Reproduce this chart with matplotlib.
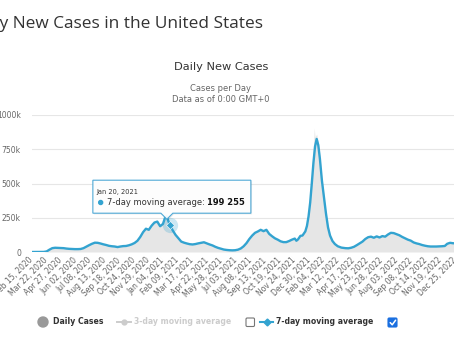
import matplotlib
matplotlib.use("Agg")
import matplotlib.pyplot as plt
import matplotlib.dates as mdates
from matplotlib.patches import Circle, Polygon, FancyBboxPatch
from matplotlib.lines import Line2D
import pandas as pd

# ---- data -------------------------------------------------------------
dates = [
    "2020-02-15", "2020-03-01", "2020-03-15", "2020-03-22", "2020-03-29", "2020-04-05",
    "2020-04-12", "2020-04-19", "2020-04-26", "2020-05-03", "2020-05-10", "2020-05-17",
    "2020-05-24", "2020-05-31", "2020-06-07", "2020-06-14", "2020-06-21", "2020-06-28",
    "2020-07-05", "2020-07-12", "2020-07-19", "2020-07-26", "2020-08-02", "2020-08-09",
    "2020-08-16", "2020-08-23", "2020-08-30", "2020-09-06", "2020-09-13", "2020-09-20",
    "2020-09-27", "2020-10-04", "2020-10-11", "2020-10-18", "2020-10-25", "2020-11-01",
    "2020-11-08", "2020-11-15", "2020-11-22", "2020-11-29", "2020-12-06", "2020-12-13",
    "2020-12-20", "2020-12-27", "2021-01-03", "2021-01-08", "2021-01-12", "2021-01-16",
    "2021-01-20", "2021-01-27", "2021-02-03", "2021-02-10", "2021-02-17", "2021-02-24",
    "2021-03-03", "2021-03-10", "2021-03-17", "2021-03-24", "2021-03-31", "2021-04-07",
    "2021-04-14", "2021-04-21", "2021-04-28", "2021-05-05", "2021-05-12", "2021-05-19",
    "2021-05-26", "2021-06-02", "2021-06-09", "2021-06-16", "2021-06-23", "2021-06-30",
    "2021-07-07", "2021-07-14", "2021-07-21", "2021-07-28", "2021-08-04", "2021-08-11",
    "2021-08-18", "2021-08-25", "2021-09-01", "2021-09-08", "2021-09-15", "2021-09-22",
    "2021-09-29", "2021-10-06", "2021-10-13", "2021-10-20", "2021-10-27", "2021-11-03",
    "2021-11-10", "2021-11-17", "2021-11-24", "2021-11-28", "2021-12-02", "2021-12-08",
    "2021-12-13", "2021-12-20", "2021-12-24", "2021-12-28", "2022-01-01", "2022-01-05",
    "2022-01-09", "2022-01-11", "2022-01-13", "2022-01-17", "2022-01-21", "2022-01-25",
    "2022-01-30", "2022-02-04", "2022-02-09", "2022-02-14", "2022-02-19", "2022-02-25",
    "2022-03-03", "2022-03-10", "2022-03-19", "2022-03-29", "2022-04-05", "2022-04-12",
    "2022-04-19", "2022-04-26", "2022-05-03", "2022-05-10", "2022-05-17", "2022-05-24",
    "2022-05-31", "2022-06-07", "2022-06-14", "2022-06-21", "2022-06-28", "2022-07-05",
    "2022-07-12", "2022-07-19", "2022-07-26", "2022-08-02", "2022-08-09", "2022-08-16",
    "2022-08-23", "2022-08-30", "2022-09-06", "2022-09-13", "2022-09-20", "2022-09-27",
    "2022-10-04", "2022-10-11", "2022-10-18", "2022-10-25", "2022-11-01", "2022-11-08",
    "2022-11-15", "2022-11-22", "2022-11-29", "2022-12-05", "2022-12-12", "2022-12-19",
    "2022-12-26", "2023-01-02", "2023-01-06",
]

moving_avg_7day = [
    0, 0, 600, 4000, 17000, 28000,
    31000, 30000, 29000, 28000, 25000, 23000,
    22000, 21000, 21000, 22000, 28000, 39000,
    50000, 60000, 68000, 67000, 62000, 56000,
    51000, 45000, 42000, 40000, 36000, 40000,
    43000, 44000, 49000, 56000, 66000, 82000,
    110000, 145000, 170000, 162000, 192000, 215000,
    222000, 188000, 205000, 250000, 262000, 228000,
    199255, 158000, 125000, 100000, 76000, 68000,
    62000, 57000, 55000, 58000, 63000, 67000,
    71000, 63000, 55000, 48000, 38000, 30000,
    24000, 18000, 15000, 13000, 12000, 13000,
    17000, 26000, 42000, 65000, 95000, 120000,
    140000, 150000, 162000, 152000, 162000, 132000,
    115000, 100000, 90000, 78000, 72000, 72000,
    80000, 90000, 98000, 82000, 92000, 118000,
    120000, 150000, 190000, 260000, 360000, 500000,
    650000, 710000, 770000, 825000, 780000, 680000,
    520000, 400000, 280000, 180000, 120000, 80000,
    58000, 42000, 32000, 28000, 27000, 31000,
    38000, 50000, 63000, 76000, 95000, 108000,
    112000, 104000, 114000, 106000, 116000, 112000,
    128000, 140000, 138000, 130000, 122000, 110000,
    100000, 90000, 83000, 70000, 63000, 58000,
    51000, 46000, 42000, 40000, 40000, 40000,
    41000, 42000, 44000, 60000, 67000, 64000,
    63000, 62000, 65000,
]

daily_cases = [
    0, 0, 700, 5000, 19000, 29000,
    32000, 31000, 30000, 28000, 26000, 24000,
    22000, 22000, 21000, 23000, 30000, 42000,
    52000, 63000, 70000, 68000, 63000, 57000,
    52000, 46000, 43000, 41000, 37000, 41000,
    44000, 45000, 51000, 58000, 70000, 86000,
    115000, 150000, 176000, 165000, 200000, 222000,
    230000, 192000, 212000, 262000, 272000, 232000,
    202000, 160000, 127000, 102000, 78000, 69000,
    63000, 58000, 56000, 59000, 64000, 68000,
    73000, 64000, 56000, 49000, 39000, 31000,
    25000, 19000, 16000, 14000, 13000, 14000,
    19000, 28000, 45000, 68000, 100000, 125000,
    145000, 155000, 168000, 158000, 168000, 136000,
    118000, 103000, 92000, 80000, 74000, 74000,
    82000, 93000, 102000, 84000, 95000, 122000,
    124000, 158000, 200000, 280000, 390000, 560000,
    760000, 905000, 840000, 860000, 800000, 700000,
    530000, 410000, 285000, 185000, 123000, 82000,
    59000, 43000, 33000, 29000, 28000, 32000,
    40000, 52000, 65000, 78000, 98000, 111000,
    114000, 107000, 117000, 109000, 119000, 115000,
    132000, 143000, 140000, 132000, 124000, 112000,
    102000, 92000, 85000, 72000, 65000, 59000,
    52000, 47000, 43000, 41000, 41000, 41000,
    42000, 43000, 45000, 63000, 70000, 66000,
    65000, 64000, 67000,
]

x_tick_labels = [
    "Feb 15, 2020", "Mar 22, 2020", "Apr 27, 2020", "Jun 02, 2020", "Jul 08, 2020",
    "Aug 13, 2020", "Sep 18, 2020", "Oct 24, 2020", "Nov 29, 2020", "Jan 04, 2021",
    "Feb 09, 2021", "Mar 17, 2021", "Apr 22, 2021", "May 28, 2021", "Jul 03, 2021",
    "Aug 08, 2021", "Sep 13, 2021", "Oct 19, 2021", "Nov 24, 2021", "Dec 30, 2021",
    "Feb 04, 2022", "Mar 12, 2022", "Apr 17, 2022", "May 23, 2022", "Jun 28, 2022",
    "Aug 03, 2022", "Sep 08, 2022", "Oct 14, 2022", "Nov 19, 2022", "Dec 25, 2022",
]
y_ticks = [0, 250000, 500000, 750000, 1000000]
y_tick_labels = ["0", "250k", "500k", "750k", "1000k"]

x_start, x_end = "2020-02-15", "2023-01-07"
highlight_date = "2021-01-20"

# ---- style ------------------------------------------------------------
BLUE = "#33a3d0"
AREA = "#e6e6e6"
GRID = "#e6e6e6"
TEXT = "#333333"
MUTED = "#666666"
FONT = "DejaVu Sans"

W, H = 454, 341
fig = plt.figure(figsize=(W / 100, H / 100), dpi=100)
fig.patch.set_facecolor("white")

x0, x1 = pd.Timestamp(x_start), pd.Timestamp(x_end)
px_per_day = 0.4055
ax_left, ax_top, ax_bottom = 32, 115, 252
ax_right = ax_left + (x1 - x0).days * px_per_day
ax = fig.add_axes([ax_left / W, 1 - ax_bottom / H,
                   (ax_right - ax_left) / W, (ax_bottom - ax_top) / H])

d = pd.to_datetime(dates)
ax.fill_between(d, daily_cases, 0, color=AREA, lw=0, zorder=2)
ax.plot(d, moving_avg_7day, color=BLUE, lw=1.7, zorder=3,
        solid_joinstyle="round", solid_capstyle="round")

ax.set_xlim(x0, x1)
ax.set_ylim(0, 1000000)
ax.set_yticks(y_ticks)
ax.set_yticklabels(y_tick_labels, fontsize=5.5, color=MUTED, family=FONT)
tick_pos = pd.to_datetime(x_tick_labels, format="%b %d, %Y")
ax.set_xticks(tick_pos)
ax.set_xticklabels(x_tick_labels, rotation=45, ha="right", va="center",
                   rotation_mode="anchor", fontsize=5.5, color=MUTED, family=FONT)
ax.tick_params(axis="both", length=0)
ax.tick_params(axis="y", pad=8)
ax.tick_params(axis="x", pad=5)
ax.grid(axis="y", color=GRID, lw=0.8, zorder=1)
ax.set_axisbelow(True)
for s in ax.spines.values():
    s.set_visible(False)
ax.patch.set_visible(False)

# highlighted point
idx = dates.index(highlight_date)
hx, hy = d[idx], moving_avg_7day[idx]
ax.plot([hx], [hy], marker="o", ms=11, color=BLUE, alpha=0.25, mec="none", zorder=4)
ax.plot([hx], [hy], marker="D", ms=4.5, color=BLUE, mec="white", mew=0.4, zorder=5)

# ---- overlay in pixel coordinates ------------------------------------
ov = fig.add_axes([0, 0, 1, 1])
ov.set_xlim(0, W)
ov.set_ylim(H, 0)
ov.axis("off")
ov.patch.set_visible(False)
ov.set_zorder(10)

ov.text(263, 27.5, "Daily New Cases in the United States", ha="right", va="baseline",
        fontsize=12.4, family="Open Sans", color=TEXT)
ov.text(221, 70.5, "Daily New Cases", ha="center", va="baseline",
        fontsize=8.2, family=FONT, color=TEXT)
ov.text(221, 91, "Cases per Day", ha="center", va="baseline",
        fontsize=6, family=FONT, color=MUTED)
ov.text(221, 102, "Data as of 0:00 GMT+0", ha="center", va="baseline",
        fontsize=6, family=FONT, color=MUTED)

# tooltip anchored on the highlighted point
dx, dy = ax.transData.transform((mdates.date2num(hx), hy))
px, py = dx, H - dy
L, R, T, B = px - 77, px + 81, py - 44.5, py - 11.5
callout = [(L, T), (R, T), (R, B), (px + 3, B), (px - 3, py - 5.5), (px - 9, B), (L, B)]
shadow = [(x + 1.2, y + 1.2) for x, y in callout]
ov.add_patch(Polygon(shadow, closed=True, fc="#000000", alpha=0.08, ec="none", zorder=1))
ov.add_patch(Polygon(callout, closed=True, fc="white", alpha=0.95, ec="none", zorder=2))
ov.add_patch(Polygon(callout, closed=True, fc="none", ec="#4fa9d6", lw=0.8, zorder=3))
ov.text(L + 4, T + 13.5, hx.strftime("%b %d, %Y"), ha="left", va="baseline",
        fontsize=4.8, family=FONT, color=TEXT, zorder=4)
ov.add_patch(Circle((L + 7.8, T + 22.3), 2.0, color=BLUE, zorder=4))
t1 = ov.text(L + 14, T + 25, "7-day moving average: ", ha="left", va="baseline",
             fontsize=6, family=FONT, color=TEXT, zorder=4)
fig.canvas.draw()
bb = t1.get_window_extent()
ov.text(bb.x1, H - (T + 25), f"{hy:,}".replace(",", " "), ha="left", va="baseline",
        fontsize=6, family=FONT, color="#111111", weight="bold", zorder=4,
        transform=None)

# legend
ly = 322
ov.add_patch(Circle((43, ly), 5, color="#999999"))
ov.text(53, ly, "Daily Cases", ha="left", va="center", fontsize=5.6,
        family=FONT, weight="bold", color=TEXT)
ov.add_line(Line2D([117, 131], [ly, ly], color="#cccccc", lw=1.4))
ov.add_line(Line2D([124], [ly], marker="o", ms=3.5, color="#cccccc"))
ov.text(134, ly, "3-day moving average", ha="left", va="center", fontsize=5.6,
        family=FONT, weight="bold", color="#cccccc")
ov.add_patch(FancyBboxPatch((246, 318), 8.5, 8.5, boxstyle="round,pad=0,rounding_size=1.2",
                            fc="white", ec="#767676", lw=0.8))
ov.add_line(Line2D([260, 273], [ly, ly], color=BLUE, lw=1.5))
ov.add_line(Line2D([266.5], [ly], marker="D", ms=3.5, color=BLUE))
ov.text(276, ly, "7-day moving average", ha="left", va="center", fontsize=5.6,
        family=FONT, weight="bold", color=TEXT)
ov.add_patch(FancyBboxPatch((388, 318), 9, 9, boxstyle="round,pad=0,rounding_size=1.2",
                            fc="#1a6fe0", ec="#1a6fe0", lw=0.8))
ov.add_line(Line2D([390.2, 392.2, 395.6], [322.6, 324.8, 320.2], color="white", lw=1.1,
                   solid_capstyle="round", solid_joinstyle="round"))

fig.savefig("out.png", dpi=100, facecolor="white")
